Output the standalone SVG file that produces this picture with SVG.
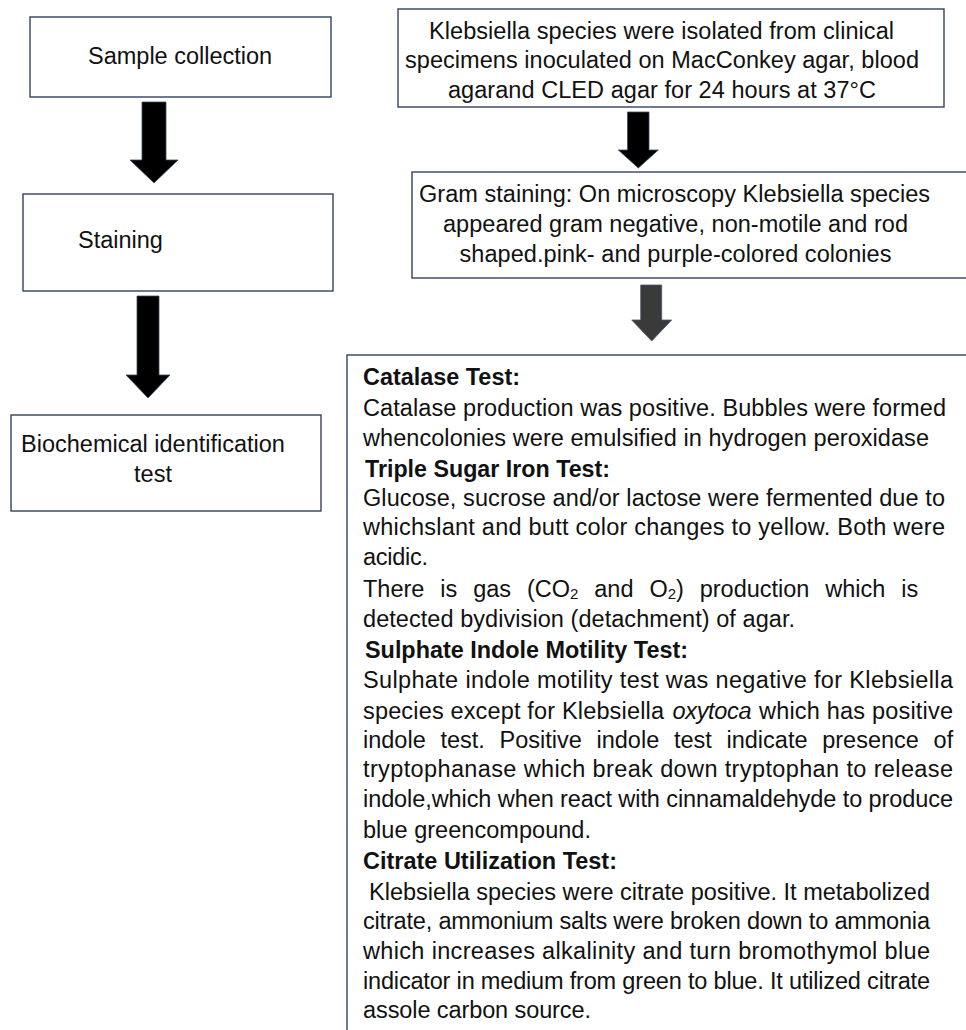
<svg xmlns="http://www.w3.org/2000/svg" width="966" height="1030" viewBox="0 0 966 1030">
<style>
  .box { fill: #ffffff; stroke: #33425f; stroke-width: 1.4; }
  .arrow { fill: #000000; stroke: #3b4a66; stroke-width: 0.8; }
  .arrow2 { fill: #3a3a3a; stroke: #4a5570; stroke-width: 0.8; }
  .lt { font-family: "Liberation Sans", Arial, sans-serif; font-size: 23.5px; fill: #111111; }
  .rt { font-family: "Liberation Sans", Arial, sans-serif; font-size: 23.5px; fill: #111111; }
  .b { font-weight: bold; }
  .sub { font-size: 15px; }
</style>
<rect x="0" y="0" width="966" height="1030" fill="#ffffff"/>

<g id="connectors">
  <polygon class="arrow" points="142,102 166,102 166,160 178,160 154,183 130,160 142,160"/>
  <polygon class="arrow" points="137,296 159,296 159,375 170,375 148,398 126,375 137,375"/>
  <polygon class="arrow" points="627.5,112 649,112 649,150 658.3,150 638.3,168 618.3,150 627.5,150"/>
  <polygon class="arrow2" points="640.7,285 661.7,285 661.7,320 671.7,320 651.7,341 631.7,320 640.7,320"/>
</g>

<g id="node-sample-collection">
  <rect class="box" x="30" y="17" width="301" height="80"/>
  <text class="lt" x="88" y="64">Sample collection</text>
</g>

<g id="node-staining">
  <rect class="box" x="23" y="194" width="310" height="97"/>
  <text class="lt" x="78" y="248">Staining</text>
</g>

<g id="node-biochemical">
  <rect class="box" x="11" y="415" width="310" height="96"/>
  <text class="lt" x="153" y="452" text-anchor="middle">Biochemical identification</text>
  <text class="lt" x="153" y="482" text-anchor="middle">test</text>
</g>

<g id="node-isolation">
  <rect class="box" x="398" y="9" width="546" height="98"/>
  <text class="rt" x="661.5" y="39" text-anchor="middle" textLength="465" lengthAdjust="spacing">Klebsiella species were isolated from clinical</text>
  <text class="rt" x="662" y="68" text-anchor="middle" textLength="514" lengthAdjust="spacing">specimens inoculated on MacConkey agar, blood</text>
  <text class="rt" x="662" y="98" text-anchor="middle" textLength="428" lengthAdjust="spacing">agarand CLED agar for 24 hours at 37°C</text>
</g>

<g id="node-gram-staining">
  <rect class="box" x="412" y="172" width="580" height="106"/>
  <text class="rt" x="674.5" y="202" text-anchor="middle" textLength="511" lengthAdjust="spacing">Gram staining: On microscopy Klebsiella species</text>
  <text class="rt" x="675.5" y="232" text-anchor="middle" textLength="465" lengthAdjust="spacing">appeared gram negative, non-motile and rod</text>
  <text class="rt" x="675.5" y="262" text-anchor="middle" textLength="432" lengthAdjust="spacing">shaped.pink- and purple-colored colonies</text>
</g>

<g id="node-biochemical-tests">
  <rect class="box" x="347" y="355" width="640" height="700"/>
  <text class="rt b" x="363" y="385" textLength="157" lengthAdjust="spacingAndGlyphs">Catalase Test:</text>
  <text class="rt" x="363" y="416" textLength="583" lengthAdjust="spacing">Catalase production was positive. Bubbles were formed</text>
  <text class="rt" x="363" y="446" textLength="566" lengthAdjust="spacing">whencolonies were emulsified in hydrogen peroxidase</text>
  <text class="rt b" x="365" y="477" textLength="245" lengthAdjust="spacingAndGlyphs">Triple Sugar Iron Test:</text>
  <text class="rt" x="363" y="506" textLength="582" lengthAdjust="spacing">Glucose, sucrose and/or lactose were fermented due to</text>
  <text class="rt" x="363" y="535" textLength="582" lengthAdjust="spacing">whichslant and butt color changes to yellow. Both were</text>
  <text class="rt" x="363" y="565" textLength="65" lengthAdjust="spacing">acidic.</text>
  <text class="rt" y="597"><tspan x="363">There</tspan><tspan x="440.3">is</tspan><tspan x="473.2">gas</tspan><tspan x="527">(CO</tspan><tspan class="sub" dy="2">2</tspan><tspan x="594.3" dy="-2">and</tspan><tspan x="649.4">O</tspan><tspan class="sub" dy="2">2</tspan><tspan dy="-2">)</tspan><tspan x="699.7">production</tspan><tspan x="825.3">which</tspan><tspan x="901.3">is</tspan></text>
  <text class="rt" x="363" y="627" textLength="432" lengthAdjust="spacing">detected bydivision (detachment) of agar.</text>
  <text class="rt b" x="365" y="658" textLength="323" lengthAdjust="spacingAndGlyphs">Sulphate Indole Motility Test:</text>
  <text class="rt" x="363" y="688" textLength="590" lengthAdjust="spacing">Sulphate indole motility test was negative for Klebsiella</text>
  <text class="rt" x="363" y="719" textLength="301" lengthAdjust="spacing">species except for Klebsiella</text>
  <text class="rt" x="672.5" y="719" font-style="italic" textLength="79" lengthAdjust="spacing">oxytoca</text>
  <text class="rt" x="759" y="719" textLength="194" lengthAdjust="spacing">which has positive</text>
  <text class="rt" y="748"><tspan x="363">indole</tspan><tspan x="440.4">test.</tspan><tspan x="499.5">Positive</tspan><tspan x="596.5">indole</tspan><tspan x="673.9">test</tspan><tspan x="726.5">indicate</tspan><tspan x="822.2">presence</tspan><tspan x="933.6">of</tspan></text>
  <text class="rt" x="363" y="777" textLength="590" lengthAdjust="spacing">tryptophanase which break down tryptophan to release</text>
  <text class="rt" x="363" y="807" textLength="590" lengthAdjust="spacing">indole,which when react with cinnamaldehyde to produce</text>
  <text class="rt" x="363" y="838" textLength="228" lengthAdjust="spacing">blue greencompound.</text>
  <text class="rt b" x="363" y="869" textLength="254" lengthAdjust="spacingAndGlyphs">Citrate Utilization Test:</text>
  <text class="rt" x="369" y="900" textLength="561" lengthAdjust="spacing">Klebsiella species were citrate positive. It metabolized</text>
  <text class="rt" x="363" y="929" textLength="567" lengthAdjust="spacing">citrate, ammonium salts were broken down to ammonia</text>
  <text class="rt" x="363" y="959" textLength="567" lengthAdjust="spacing">which increases alkalinity and turn bromothymol blue</text>
  <text class="rt" x="363" y="989" textLength="567" lengthAdjust="spacing">indicator in medium from green to blue. It utilized citrate</text>
  <text class="rt" x="363" y="1018" textLength="228" lengthAdjust="spacing">assole carbon source.</text>
</g>
</svg>
